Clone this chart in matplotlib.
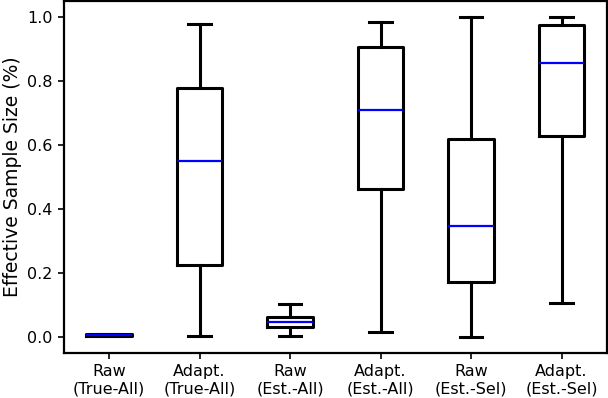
import matplotlib
matplotlib.use("Agg")
import matplotlib.pyplot as plt

labels = ["Raw\n(True-All)", "Adapt.\n(True-All)", "Raw\n(Est.-All)",
          "Adapt.\n(Est.-All)", "Raw\n(Est.-Sel)", "Adapt.\n(Est.-Sel)"]
whislo = [0.003, 0.002, 0.004, 0.017, 0.001, 0.107]
q1     = [0.004, 0.224, 0.032, 0.462, 0.172, 0.627]
med    = [0.006, 0.550, 0.046, 0.710, 0.348, 0.857]
q3     = [0.008, 0.778, 0.062, 0.906, 0.618, 0.975]
whishi = [0.010, 0.978, 0.104, 0.984, 1.000, 1.000]

stats = []
for i in range(len(labels)):
    stats.append(dict(label=labels[i], whislo=whislo[i], q1=q1[i], med=med[i],
                      q3=q3[i], whishi=whishi[i], fliers=[]))

fig = plt.figure(figsize=(6.08, 3.98), dpi=100)
ax = fig.add_axes([0.105, 0.113, 0.893, 0.885])
lw = 2.2
ax.bxp(stats, showfliers=False,
       boxprops=dict(color="black", linewidth=lw),
       whiskerprops=dict(color="black", linewidth=lw),
       capprops=dict(color="black", linewidth=lw),
       medianprops=dict(color="blue", linewidth=1.6))
ax.set_ylim(-0.05, 1.05)
ax.set_yticks([0.0, 0.2, 0.4, 0.6, 0.8, 1.0])
ax.tick_params(labelsize=11.5, width=1.2, length=4.5)
ax.set_ylabel("Effective Sample Size (%)", fontsize=13.5, labelpad=4)
for s in ax.spines.values():
    s.set_linewidth(1.6)
fig.savefig("out.png", dpi=100)
